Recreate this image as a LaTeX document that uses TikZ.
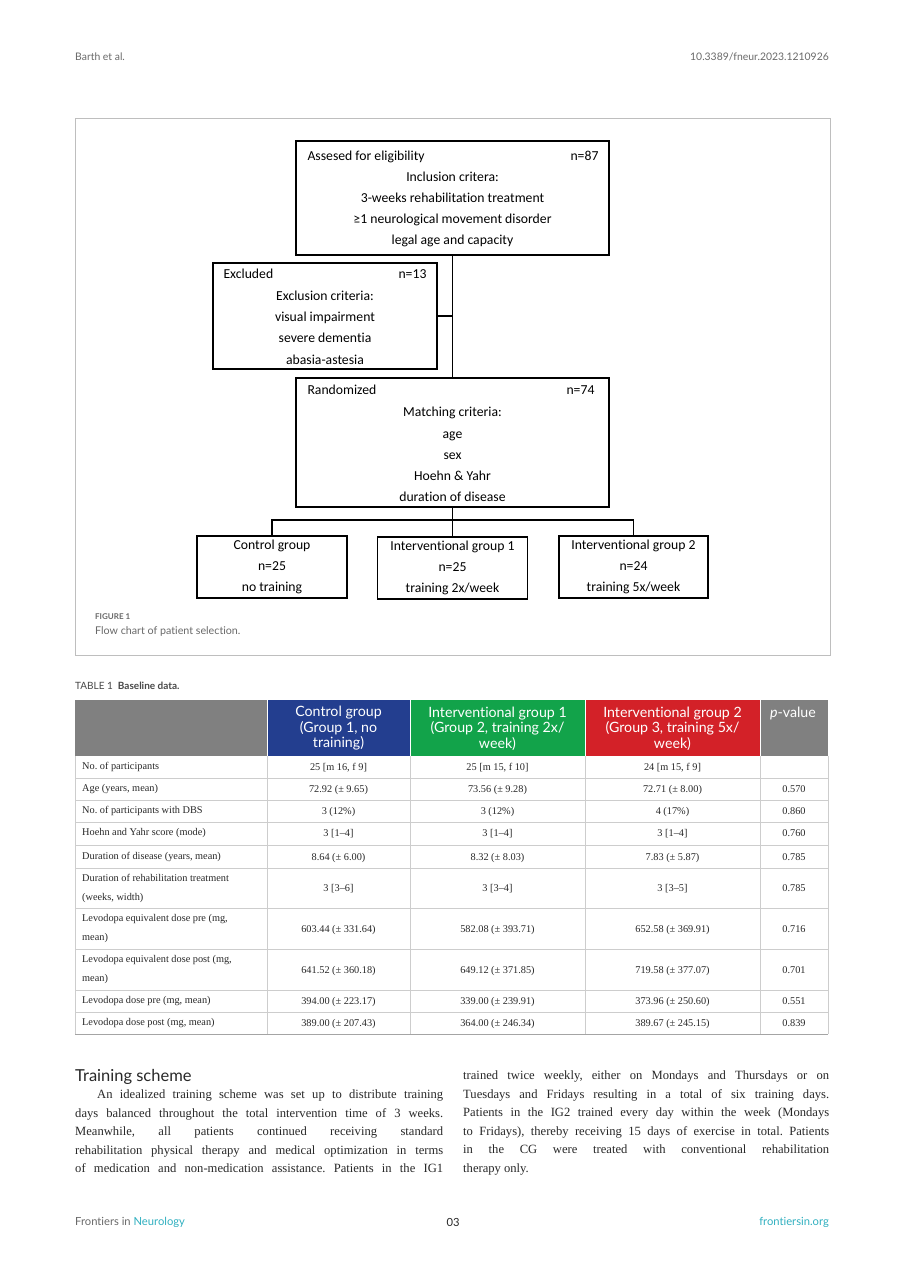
\documentclass[tikz,border=0pt]{standalone}
\usepackage{fontspec}
\setmainfont{Liberation Serif}
\newfontfamily\flowfont[Ligatures={NoCommon}]{Carlito}
\newfontfamily\uifont[Ligatures={NoCommon}]{Lato}
\usetikzlibrary{positioning,calc}
\definecolor{pagegray}{RGB}{105,105,105}
\definecolor{framegray}{RGB}{190,190,190}
\definecolor{gridgray}{RGB}{205,205,205}
\definecolor{headgray}{RGB}{128,128,128}
\definecolor{cgblue}{RGB}{35,62,143}
\definecolor{igone}{RGB}{18,163,74}
\definecolor{igtwo}{RGB}{211,33,40}
\definecolor{fronteal}{RGB}{48,176,192}
\definecolor{bodyink}{RGB}{40,40,40}
\newcommand{\jline}[2][368pt]{\makebox[#1][s]{#2}}
\frenchspacing

\begin{document}
\begin{tikzpicture}[
  x=1pt,y=-1pt,
  flowbox/.style={draw=black,line width=1.3pt,inner sep=0pt},
  boxhead/.style={font=\flowfont\fontsize{13.7}{15}\selectfont,inner sep=0pt},
  boxbody/.style={font=\flowfont\fontsize{13.7}{21.2}\selectfont,align=center,inner sep=0pt},
  link/.style={line width=1.3pt,black},
  cell/.style={font=\fontsize{10.3}{19}\selectfont,text=bodyink,inner sep=0pt},
  headcell/.style={font=\uifont\fontsize{14.2}{15.5}\selectfont,text=white,align=center,inner sep=0pt},
  pagenote/.style={font=\uifont\fontsize{10.4}{12}\selectfont,text=pagegray,inner sep=0pt},
  footnote/.style={font=\uifont\fontsize{11.2}{13}\selectfont,text=pagegray,inner sep=0pt}
]
  \useasboundingbox[fill=white] (0,0) rectangle (905,1280);

  % running head
  \node[pagenote,anchor=west] (author) at (75,57) {Barth et al.};
  \node[pagenote,anchor=east] (doi) at (829,57) {10.3389/fneur.2023.1210926};

  % figure frame
  \draw[framegray,line width=0.8pt] (75,118) rectangle (830,655);

  % flow chart
  \node[flowbox,minimum width=313pt,minimum height=114pt] (elig) at (452.5,198) {};
  \node[boxhead,anchor=base west] (eligtitle) at ([shift={(12,20)}]elig.north west) {Assesed for eligibility};
  \node[boxhead,anchor=base east] (elign) at ([shift={(-11,20)}]elig.north east) {n=87};
  \node[boxbody] (eligtext) at (452.5,209.5) {Inclusion critera:\\3-weeks rehabilitation treatment\\≥1 neurological movement disorder\\legal age and capacity};

  \node[flowbox,minimum width=224pt,minimum height=106pt] (excl) at (325,316) {};
  \node[boxhead,anchor=base west] (excltitle) at ([shift={(11,16.5)}]excl.north west) {Excluded};
  \node[boxhead,anchor=base east] (excln) at ([shift={(-11,16.5)}]excl.north east) {n=13};
  \node[boxbody] (excltext) at (325,327.5) {Exclusion criteria:\\visual impairment\\severe dementia\\abasia-astesia};

  \node[flowbox,minimum width=313pt,minimum height=129pt] (rand) at (452.5,442.5) {};
  \node[boxhead,anchor=base west] (randtitle) at ([shift={(12,17.5)}]rand.north west) {Randomized};
  \node[boxhead,anchor=base east] (randn) at ([shift={(-15,17.5)}]rand.north east) {n=74};
  \node[boxbody] (randtext) at (452.5,454.5) {Matching criteria:\\age\\sex\\Hoehn \& Yahr\\duration of disease};

  \node[flowbox,boxbody,minimum width=150pt,minimum height=62pt] (cg) at (272,567) {Control group\\n=25\\no training};
  \node[flowbox,boxbody,minimum width=150pt,minimum height=62pt] (ig1) at (452.5,568) {Interventional group 1\\n=25\\training 2x/week};
  \node[flowbox,boxbody,minimum width=149pt,minimum height=62pt] (ig2) at (633.5,567) {Interventional group 2\\n=24\\training 5x/week};

  \coordinate (tap) at (elig.south |- excl.east);
  \coordinate (bus) at (452.5,520);
  \draw[link] (elig.south) -- (rand.north);
  \draw[link] (excl.east) -- (tap);
  \draw[link] (rand.south) -- (ig1.north);
  \draw[link] (cg.north) |- (bus) -| (ig2.north);

  \node[anchor=west,font=\uifont\bfseries\fontsize{8}{9}\selectfont,text=pagegray,inner sep=0pt] (figlab) at (95,617) {FIGURE 1};
  \node[anchor=west,font=\uifont\fontsize{10.7}{12}\selectfont,text=pagegray,inner sep=0pt] (figcap) at (95,631) {Flow chart of patient selection.};

  % table
  \node[anchor=west,font=\uifont\fontsize{10}{11}\selectfont,text=bodyink!85,inner sep=0pt] (tabcap) at (75,686) {TABLE 1\hspace{5pt}\textbf{Baseline data.}};
  \fill[headgray] (75,700) rectangle (267,756);
  \fill[cgblue] (267,700) rectangle (410,756);
  \fill[igone] (410,700) rectangle (585,756);
  \fill[igtwo] (585,700) rectangle (760,756);
  \fill[headgray] (760,700) rectangle (828,756);
  \foreach \x in {267,410,585,760}
    \draw[white,line width=0.8pt] (\x,700) -- (\x,756);
  \node[headcell] (hcg) at (338.5,728.5) {Control group\\(Group 1, no\\training)};
  \node[headcell] (hig1) at (497.5,728.5) {Interventional group 1\\(Group 2, training 2x/\\week)};
  \node[headcell] (hig2) at (672.5,728.5) {Interventional group 2\\(Group 3, training 5x/\\week)};
  \node[headcell] (hp) at (793,713) {\textit{p}-value};

  \foreach \y in {778,800,822,845,868,908,949,990,1012}
    \draw[gridgray,line width=0.8pt] (75,\y) -- (828,\y);
  \draw[gridgray!80!black,line width=0.9pt] (75,1034) -- (828,1034);
  \foreach \x in {75,267,410,585,760,828}
    \draw[gridgray,line width=0.8pt] (\x,756) -- (\x,1034);

  \foreach \i/\y/\lab/\a/\b/\c/\p in {
    1/767/{No. of participants}/{25 [m 16, f 9]}/{25 [m 15, f 10]}/{24 [m 15, f 9]}/{},
    2/789/{Age (years, mean)}/{72.92 (± 9.65)}/{73.56 (± 9.28)}/{72.71 (± 8.00)}/{0.570},
    3/811/{No. of participants with DBS}/{3 (12\%)}/{3 (12\%)}/{4 (17\%)}/{0.860},
    4/833/{Hoehn and Yahr score (mode)}/{3 [1--4]}/{3 [1--4]}/{3 [1--4]}/{0.760},
    5/857/{Duration of disease (years, mean)}/{8.64 (± 6.00)}/{8.32 (± 8.03)}/{7.83 (± 5.87)}/{0.785},
    6/888/{Duration of rehabilitation treatment\\(weeks, width)}/{3 [3--6]}/{3 [3--4]}/{3 [3--5]}/{0.785},
    7/929/{Levodopa equivalent dose pre (mg,\\mean)}/{603.44 (± 331.64)}/{582.08 (± 393.71)}/{652.58 (± 369.91)}/{0.716},
    8/970/{Levodopa equivalent dose post (mg,\\mean)}/{641.52 (± 360.18)}/{649.12 (± 371.85)}/{719.58 (± 377.07)}/{0.701},
    9/1001/{Levodopa dose pre (mg, mean)}/{394.00 (± 223.17)}/{339.00 (± 239.91)}/{373.96 (± 250.60)}/{0.551},
    10/1023/{Levodopa dose post (mg, mean)}/{389.00 (± 207.43)}/{364.00 (± 246.34)}/{389.67 (± 245.15)}/{0.839}}
  {
    \node[cell,anchor=west,align=left] (lab\i) at (82,\y) {\lab};
    \node[cell,anchor=base] (vcg\i) at (338.5,\y+3.4) {\a};
    \node[cell,anchor=base] (vig1\i) at (497.5,\y+3.4) {\b};
    \node[cell,anchor=base] (vig2\i) at (672.5,\y+3.4) {\c};
    \node[cell,anchor=base] (vp\i) at (794,\y+3.4) {\p};
  }

  % body text
  \node[anchor=west,font=\uifont\fontsize{16.5}{18}\selectfont,text=bodyink,inner sep=0pt] (schemehead) at (75,1077) {Training scheme};
  \node[anchor=north west,align=left,inner sep=0pt,font=\fontsize{12.6}{18.5}\selectfont,text=bodyink] (colleft) at (75,1090) {%
    \hspace*{22pt}\jline[346pt]{An idealized training scheme was set up to distribute training}\\
    \jline{days balanced throughout the total intervention time of 3 weeks.}\\
    \jline{Meanwhile, all patients continued receiving standard}\\
    \jline{rehabilitation physical therapy and medical optimization in terms}\\
    \jline{of medication and non-medication assistance. Patients in the IG1}};
  \node[anchor=north west,align=left,inner sep=0pt,font=\fontsize{12.6}{18.5}\selectfont,text=bodyink] (colright) at (463,1071) {%
    \jline[366pt]{trained twice weekly, either on Mondays and Thursdays or on}\\
    \jline[366pt]{Tuesdays and Fridays resulting in a total of six training days.}\\
    \jline[366pt]{Patients in the IG2 trained every day within the week (Mondays}\\
    \jline[366pt]{to Fridays), thereby receiving 15 days of exercise in total. Patients}\\
    \jline[366pt]{in the CG were treated with conventional rehabilitation}\\
    therapy only.};

  % running foot
  \node[footnote,anchor=west] (journal) at (75,1222) {Frontiers in \textcolor{fronteal}{Neurology}};
  \node[footnote,text=bodyink] (pageno) at (453,1222) {03};
  \node[footnote,anchor=east,text=fronteal] (site) at (829,1222) {frontiersin.org};
\end{tikzpicture}
\end{document}
